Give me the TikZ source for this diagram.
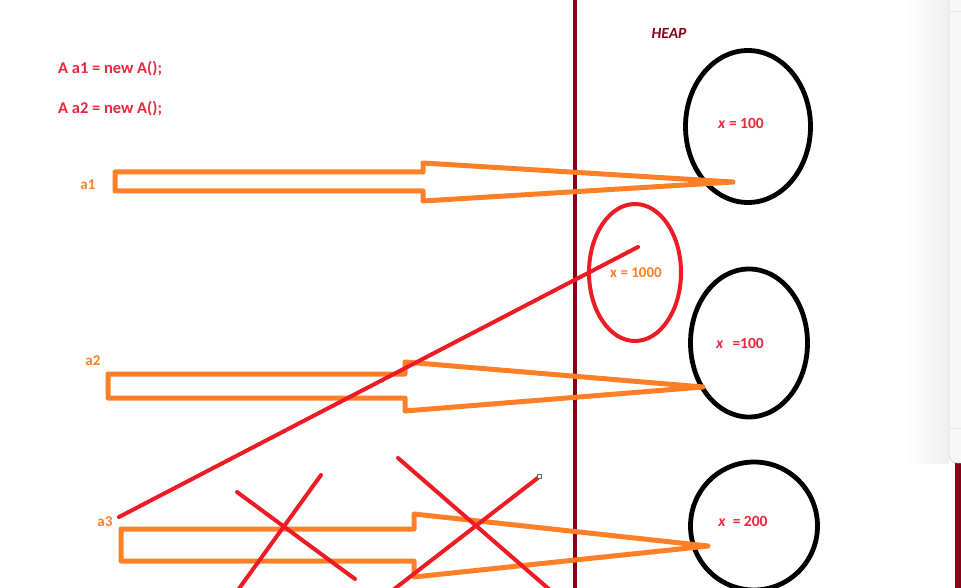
\documentclass[tikz,border=0pt]{standalone}
\usepackage{fontspec}
\setmainfont{Carlito}
\usetikzlibrary{shapes.geometric}
\definecolor{paint_orange}{HTML}{FF7F27}
\definecolor{paint_red}{HTML}{ED1C24}
\definecolor{text_red}{HTML}{E8283C}
\definecolor{dark_red}{HTML}{880015}

\begin{document}
\begin{tikzpicture}[
  x=1pt, y=-1pt,
  code_text/.style={inner sep=0pt, anchor=west, text=text_red, font=\fontsize{16.5}{18}\selectfont\bfseries},
  ref_text/.style={inner sep=0pt, text=paint_orange, font=\fontsize{15}{17}\selectfont\bfseries},
  val_text/.style={inner sep=0pt, text=text_red, font=\fontsize{15.5}{17}\selectfont\bfseries},
  heap_obj/.style={ellipse, draw=black, line width=4.8pt, inner sep=0pt},
  block_arrow/.style={draw=paint_orange, line width=5pt, line join=round},
  cross_line/.style={draw=paint_red, line width=4pt, line cap=round},
]
\useasboundingbox (0,0) rectangle (961,588);
\clip (0,0) rectangle (961,588);
\fill[white] (0,0) rectangle (961,588);

% side panel at the right edge
\shade[left color=white, right color=black!6] (905,0) rectangle (949,463);
\fill[dark_red] (955,463) rectangle (961,588);
\draw[black!25, fill=black!3, rounded corners=8pt] (949,-10) -- (949,463) -- (975,463) -- (975,-10);
\draw[black!10] (950,11) -- (961,11);
\draw[black!10] (950,428) -- (961,428);

% stack | heap divider
\draw[dark_red, line width=4pt] (575,0) -- (575,588);
\node (heap) [inner sep=0pt, text=dark_red, font=\fontsize{15.5}{17}\selectfont\bfseries\itshape] at (669,33) {HEAP};

\node (line1) [code_text] at (58,69) {A a1 = new A();};
\node (line2) [code_text] at (58,109) {A a2 = new A();};

% heap objects
\node (obj1) [heap_obj, minimum width=125pt, minimum height=152pt] at (748,126.5) {};
\node (obj2) [heap_obj, minimum width=117pt, minimum height=148pt] at (749,343) {};
\node (obj3) [heap_obj, minimum width=127pt, minimum height=128pt] at (754,526) {};
\node (obj_old) [ellipse, draw=paint_red, line width=4pt, inner sep=0pt, minimum width=92pt, minimum height=137pt] at (635,272.5) {};

\node (val1) [val_text] at (741,123) {\textit{x} = 100};
\node (val2) [val_text] at (740,343) {\textit{x}\hspace{9pt}=100};
\node (val3) [val_text] at (743,521) {\textit{x}\ \ = 200};
\node (val_old) [ref_text] at (636,273) {x = 1000};

% references
\node (a1) [ref_text] at (88,185) {a1};
\node (a2) [ref_text] at (93,361) {a2};
\node (a3) [ref_text] at (105,522) {a3};

\coordinate (tip1) at (733,182);
\coordinate (tip2) at (703,387);
\coordinate (tip3) at (708,546);
\draw[block_arrow] (115,172) -- (423,172) -- (423,163) -- (tip1) -- (423,201) -- (423,191) -- (115,191) -- cycle;
\draw[block_arrow] (108,374) -- (405,374) -- (405,362) -- (tip2) -- (405,411) -- (405,398) -- (108,398) -- cycle;
\draw[block_arrow] (121,529) -- (414,529) -- (414,514) -- (tip3) -- (414,577) -- (414,561) -- (121,561) -- cycle;

% old link and crossings
\coordinate (from3) at (119,517);
\coordinate (to_old) at (638,247);
\draw[cross_line] (from3) -- (to_old);
\draw[cross_line] (237,492) -- (355,579);
\draw[cross_line] (321,475) -- (238,590);
\draw[cross_line] (398,458) -- (550,590);
\draw[cross_line] (539,477) -- (393,590);
\draw[black!60, fill=white, line width=0.6pt] (537.5,474.5) rectangle (541.5,478.5);
\end{tikzpicture}
\end{document}
